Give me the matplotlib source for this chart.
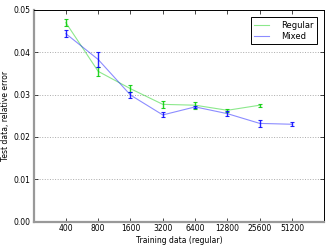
import numpy as np
import matplotlib
matplotlib.use("Agg")
import matplotlib.pyplot as plt

tick_labels = ["400", "800", "1600", "3200", "6400", "12800", "25600", "51200"]

regular = [0.0470, 0.0355, 0.0314, 0.0277, 0.0275, 0.0263, 0.0275]
regular_err = [0.0008, 0.0011, 0.0008, 0.0008, 0.0008, 0.0004, 0.0004]

mixed = [0.0444, 0.0383, 0.0299, 0.0252, 0.0271, 0.0255, 0.0232, 0.0230]
mixed_err = [0.0009, 0.0017, 0.0008, 0.0006, 0.0003, 0.0006, 0.0008, 0.0005]

green = (0.0, 0.8, 0.0)
blue = (0.0, 0.0, 1.0)

fig = plt.figure(figsize=(3.32, 2.49), dpi=100)
ax = fig.add_axes([0.101, 0.110, 0.876, 0.850])

xr = np.arange(1, len(regular) + 1)
xm = np.arange(1, len(mixed) + 1)

ax.plot(xr, regular, color=green, alpha=0.45, lw=0.8, label="Regular")
ax.errorbar(xr, regular, yerr=regular_err, fmt="none", ecolor=green,
            elinewidth=1.0, capsize=1.5, capthick=0.8, alpha=0.85)
ax.plot(xm, mixed, color=blue, alpha=0.45, lw=0.8, label="Mixed")
ax.errorbar(xm, mixed, yerr=mixed_err, fmt="none", ecolor=blue,
            elinewidth=1.0, capsize=1.5, capthick=0.8, alpha=0.85)

ax.set_xlim(0, 9)
ax.set_ylim(0, 0.05)
ax.set_xticks(np.arange(1, len(tick_labels) + 1))
ax.set_xticklabels(tick_labels)
ax.set_yticks([0.0, 0.01, 0.02, 0.03, 0.04, 0.05])
ax.set_yticklabels(["0.00", "0.01", "0.02", "0.03", "0.04", "0.05"])
ax.tick_params(axis="both", labelsize=5.5, direction="in", length=3,
               width=0.5, top=True, right=True, pad=2)
ax.yaxis.grid(True, linestyle=":", color="#aaaaaa", lw=0.7)

ax.set_xlabel("Training data (regular)", fontsize=5.5, labelpad=2)
ax.set_ylabel("Test data, relative error", fontsize=5.5, labelpad=3)

for side in ["left", "bottom"]:
    ax.spines[side].set_color("#999999")
    ax.spines[side].set_linewidth(1.6)
for side in ["top", "right"]:
    ax.spines[side].set_color("black")
    ax.spines[side].set_linewidth(0.7)

leg = ax.legend(loc="upper right", fontsize=6, fancybox=False,
                handlelength=1.8, handletextpad=1.5, borderpad=0.4,
                labelspacing=0.3, bbox_to_anchor=(0.99, 0.985))
leg.get_frame().set_edgecolor("black")
leg.get_frame().set_linewidth(0.7)
leg.get_frame().set_alpha(1)

fig.savefig("out.png", dpi=100)
